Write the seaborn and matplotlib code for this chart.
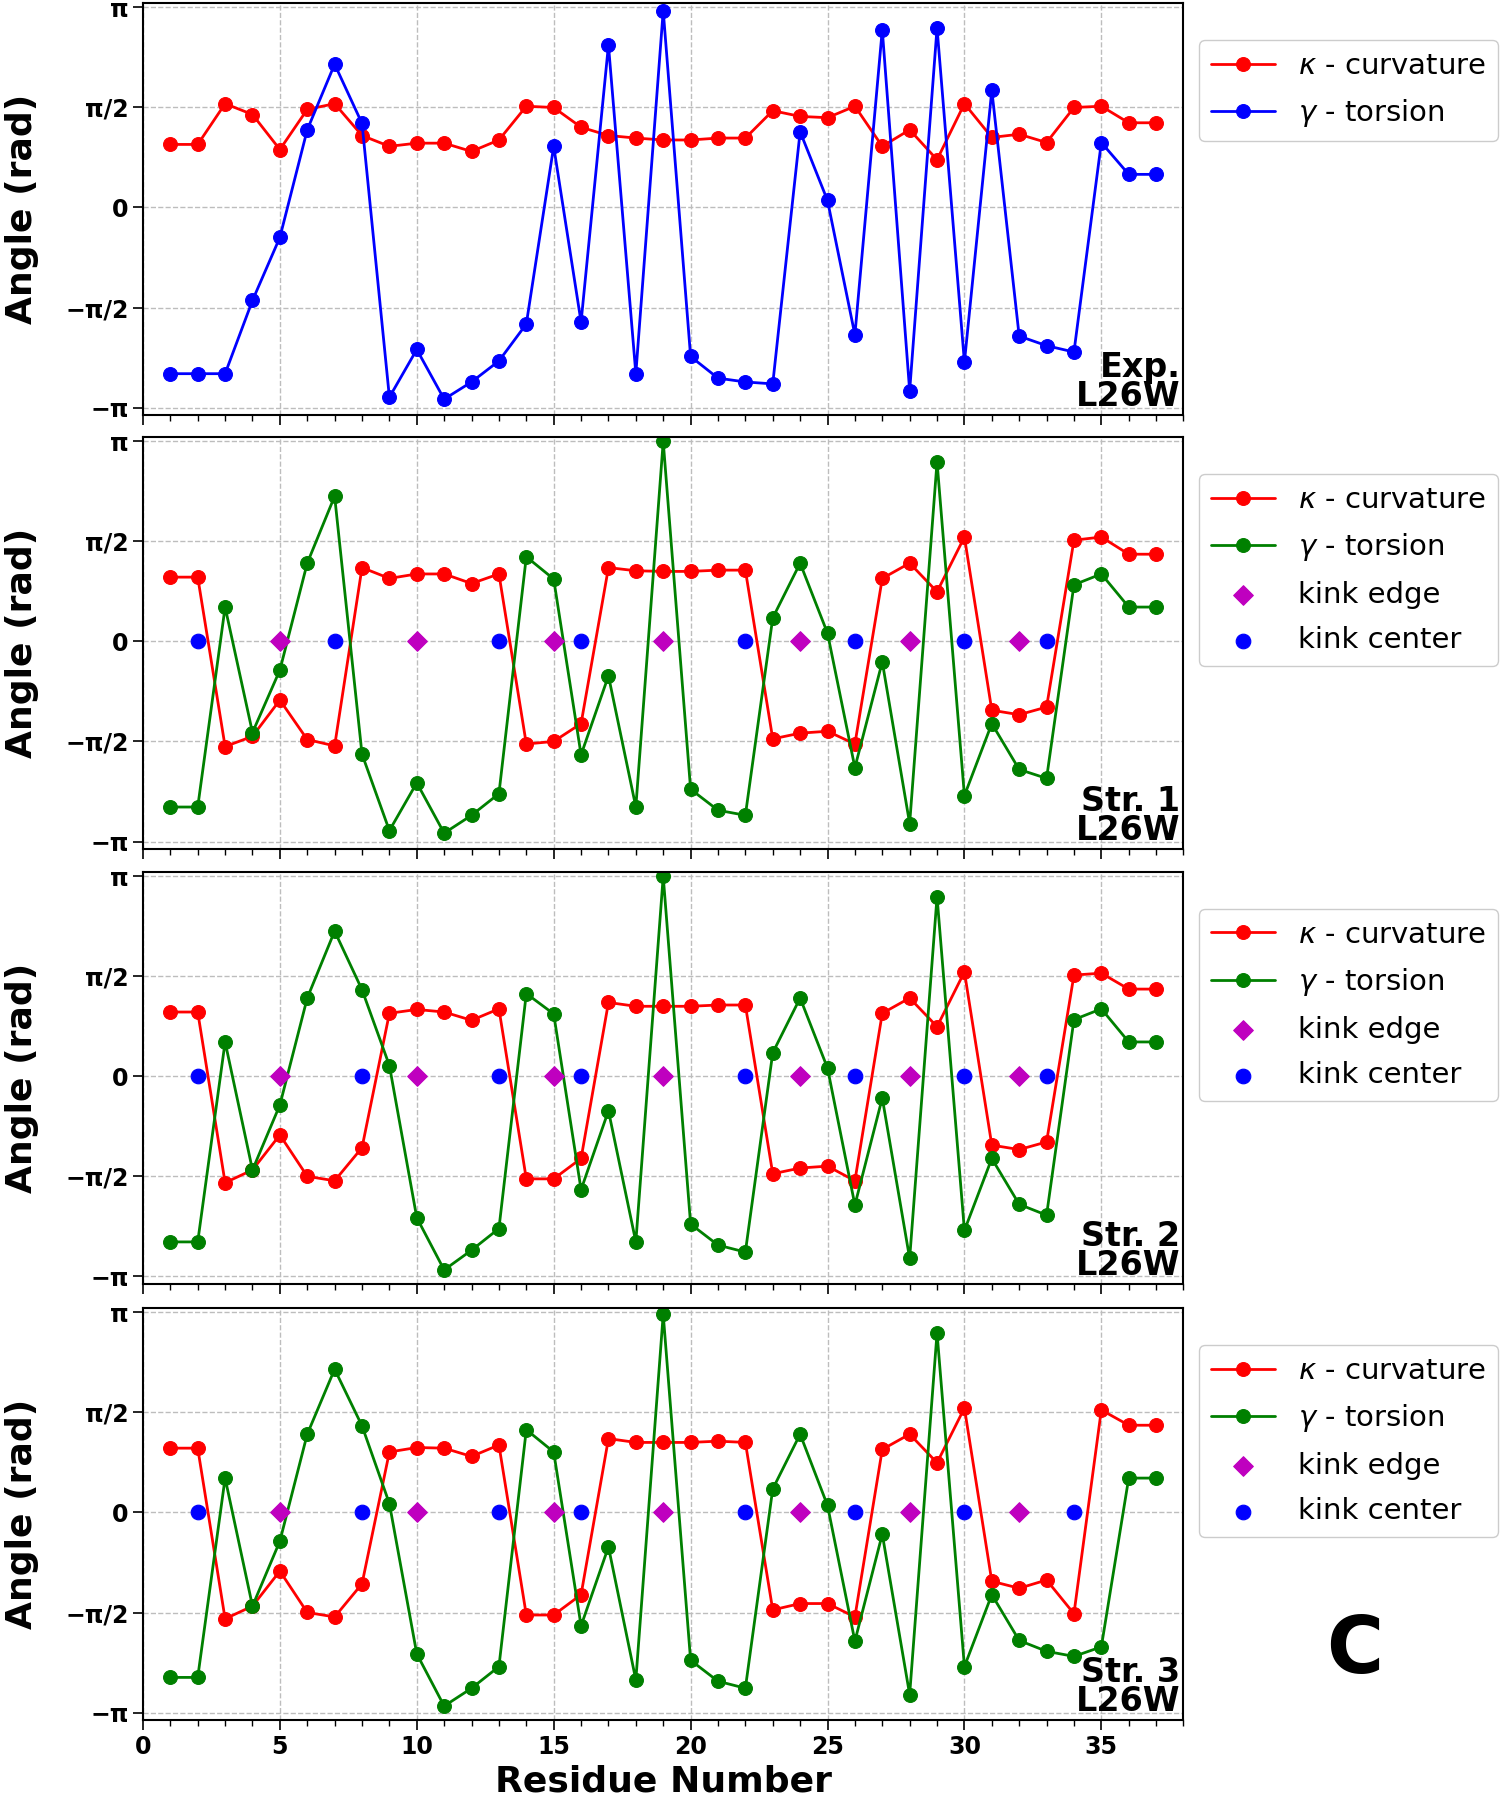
import numpy as np
import pandas as pd
import seaborn as sns
import matplotlib.pyplot as plt
from matplotlib.ticker import MultipleLocator

# 1. Setup Visuals
sns.set_theme(style="whitegrid", rc={
    "axes.edgecolor": "black", "axes.linewidth": 1.5,
    "grid.color": "#bdbdbd", "grid.linewidth": 1.0, "grid.linestyle": "--",
    "xtick.bottom": True, "ytick.left": True,
    "xtick.color": "black", "ytick.color": "black",
    "text.color": "black", "axes.labelcolor": "black",
})
plt.rcParams['font.family'] = ['DejaVu Sans']

# 2. Data (angles in rad, residues 1..37)
residues = list(range(1, 38))

exp_kappa = [0.99, 0.99, 1.63, 1.46, 0.91, 1.54, 1.63, 1.13, 0.96, 1.01, 1.01, 0.88, 1.06,
             1.59, 1.57, 1.26, 1.13, 1.09, 1.06, 1.06, 1.09, 1.09, 1.52, 1.43, 1.41, 1.59,
             0.96, 1.22, 0.75, 1.63, 1.10, 1.15, 1.02, 1.57, 1.59, 1.33, 1.33]
exp_gamma = [-2.61, -2.61, -2.61, -1.46, -0.47, 1.22, 2.25, 1.32, -2.98, -2.23, -3.01, -2.74,
             -2.41, -1.83, 0.96, -1.80, 2.55, -2.61, 3.09, -2.34, -2.68, -2.74, -2.77, 1.19,
             0.11, -2.00, 2.79, -2.88, 2.82, -2.43, 1.84, -2.02, -2.17, -2.27, 1.02, 0.52, 0.52]

str1_kappa = [1.01, 1.01, -1.65, -1.49, -0.92, -1.54, -1.64, 1.16, 0.99, 1.06, 1.06, 0.91, 1.06,
              -1.61, -1.57, -1.29, 1.16, 1.11, 1.10, 1.10, 1.12, 1.12, -1.53, -1.44, -1.41,
              -1.61, 0.99, 1.23, 0.78, 1.64, -1.08, -1.15, -1.03, 1.59, 1.64, 1.37, 1.37]
str1_gamma = [-2.60, -2.60, 0.54, -1.43, -0.45, 1.23, 2.28, -1.77, -2.97, -2.22, -3.01, -2.73,
              -2.39, 1.33, 0.98, -1.78, -0.54, -2.60, 3.14, -2.32, -2.65, -2.73, 0.37, 1.23,
              0.13, -1.98, -0.32, -2.86, 2.82, -2.42, -1.29, -2.01, -2.15, 0.89, 1.06, 0.54, 0.54]
str1_edge = [5, 10, 15, 19, 24, 28, 32]
str1_center = [2, 7, 13, 16, 22, 26, 30, 33]

str2_kappa = [1.01, 1.01, -1.67, -1.47, -0.92, -1.57, -1.64, -1.12, 0.99, 1.05, 1.01, 0.88, 1.06,
              -1.61, -1.61, -1.29, 1.16, 1.10, 1.10, 1.10, 1.12, 1.12, -1.53, -1.44, -1.41,
              -1.64, 0.99, 1.23, 0.78, 1.64, -1.08, -1.15, -1.03, 1.59, 1.62, 1.37, 1.37]
str2_gamma = [-2.60, -2.60, 0.54, -1.47, -0.45, 1.23, 2.28, 1.36, 0.17, -2.22, -3.04, -2.73,
              -2.39, 1.30, 0.98, -1.78, -0.54, -2.60, 3.14, -2.32, -2.65, -2.76, 0.37, 1.23,
              0.13, -2.02, -0.34, -2.86, 2.82, -2.42, -1.29, -2.01, -2.18, 0.89, 1.06, 0.54, 0.54]
str2_edge = [5, 10, 15, 19, 24, 28, 32]
str2_center = [2, 8, 13, 16, 22, 26, 30, 33]

str3_kappa = [1.01, 1.01, -1.67, -1.47, -0.92, -1.57, -1.64, -1.12, 0.95, 1.02, 1.01, 0.88, 1.06,
              -1.61, -1.61, -1.29, 1.16, 1.10, 1.10, 1.10, 1.12, 1.10, -1.53, -1.43, -1.43,
              -1.64, 0.99, 1.23, 0.78, 1.64, -1.08, -1.19, -1.06, -1.59, 1.61, 1.37, 1.37]
str3_gamma = [-2.59, -2.59, 0.54, -1.47, -0.45, 1.23, 2.25, 1.36, 0.14, -2.22, -3.04, -2.76,
              -2.42, 1.30, 0.95, -1.78, -0.54, -2.63, 3.11, -2.32, -2.65, -2.76, 0.37, 1.23,
              0.11, -2.02, -0.34, -2.86, 2.82, -2.42, -1.29, -2.01, -2.18, -2.26, -2.11, 0.54, 0.54]
str3_edge = [5, 10, 15, 19, 24, 28, 32]
str3_center = [2, 8, 13, 16, 22, 26, 30, 34]

panel_tags = ["Exp.\nL26W", "Str. 1\nL26W", "Str. 2\nL26W", "Str. 3\nL26W"]
ytick_vals = [-np.pi, -np.pi / 2, 0, np.pi / 2, np.pi]
ytick_labels = ["\u2212\u03c0", "\u2212\u03c0/2", "0", "\u03c0/2", "\u03c0"]

panels = [
    (exp_kappa, exp_gamma, "blue", None, None),
    (str1_kappa, str1_gamma, "green", str1_edge, str1_center),
    (str2_kappa, str2_gamma, "green", str2_edge, str2_center),
    (str3_kappa, str3_gamma, "green", str3_edge, str3_center),
]

# 3. Figure with 4 stacked panels
fig = plt.figure(figsize=(15.08, 18), dpi=100)
bottoms = [0.7694, 0.5283, 0.2867, 0.0444]
axes = []
for i, (kappa, gamma, gcolor, edge, center) in enumerate(panels):
    ax = fig.add_axes([0.0948, bottoms[i], 0.690, 0.2289],
                      sharex=axes[0] if axes else None)
    axes.append(ax)

    sns.lineplot(x=residues, y=kappa, ax=ax, color="red", marker="o", markersize=10,
                 markeredgecolor="red", linewidth=2, label=r"$\kappa$ - curvature")
    sns.lineplot(x=residues, y=gamma, ax=ax, color=gcolor, marker="o", markersize=10,
                 markeredgecolor=gcolor, linewidth=2, label=r"$\gamma$ - torsion")
    if edge is not None:
        sns.scatterplot(x=edge, y=[0] * len(edge), ax=ax, marker="D", color="#bf00bf",
                        edgecolor="#bf00bf", s=100, label="kink edge", zorder=3)
        sns.scatterplot(x=center, y=[0] * len(center), ax=ax, marker="o", color="blue",
                        edgecolor="blue", s=110, label="kink center", zorder=3)

    ax.set_xlim(0, 38)
    ax.set_ylim(-3.26, 3.21)
    ax.set_yticks(ytick_vals)
    ax.set_yticklabels(ytick_labels, fontsize=17, fontweight="bold")
    ax.xaxis.set_major_locator(MultipleLocator(5))
    ax.xaxis.set_minor_locator(MultipleLocator(1))
    ax.tick_params(axis="both", which="major", direction="out", length=7, width=1.2)
    ax.tick_params(axis="x", which="minor", direction="out", length=4, width=1, bottom=True)
    ax.grid(True, which="major")
    ax.set_ylabel("Angle (rad)", fontsize=26, fontweight="bold")
    ax.yaxis.set_label_coords(-0.10, 0.5)
    ax.set_xlabel("")

    ax.text(0.997, 0.005, panel_tags[i], transform=ax.transAxes, ha="right", va="bottom",
            fontsize=24, fontweight="bold", linespacing=0.85)

    ax.legend(loc="upper left", bbox_to_anchor=(1.015, 0.91), borderaxespad=0,
              fontsize=21, handlelength=2.2, labelspacing=0.6, framealpha=1,
              edgecolor="0.8")

    if i < 3:
        ax.tick_params(axis="x", labelbottom=False)

axes[-1].set_xticks(range(0, 36, 5))
axes[-1].set_xticklabels([str(v) for v in range(0, 36, 5)], fontsize=17, fontweight="bold")
axes[-1].set_xlabel("Residue Number", fontsize=26, fontweight="bold", labelpad=4)

fig.text(0.8985, 0.083, "C", fontsize=56, fontweight="bold", ha="center", va="center")

fig.savefig("out.png", dpi=100)
